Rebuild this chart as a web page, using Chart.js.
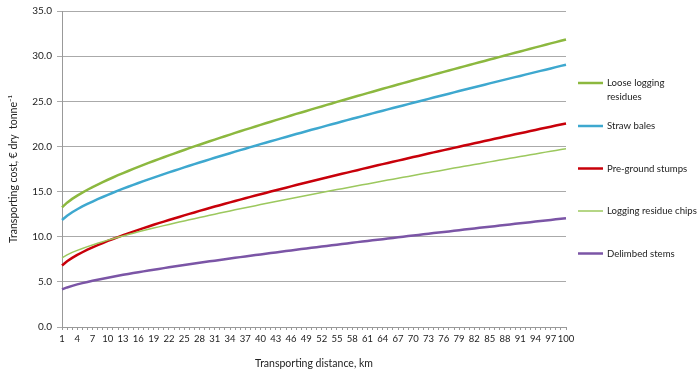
<!DOCTYPE html>
<html lang="en">
<head>
    <meta charset="UTF-8">
    <title>Transporting cost</title>
    <script src="https://cdn.jsdelivr.net/npm/chart.js"></script>
    <style>
        html, body { margin: 0; padding: 0; background: #fff; }
        #wrap { width: 700px; height: 373px; }
    </style>
</head>
<body>
    <div id="wrap"><canvas id="myChart"></canvas></div>
    <script>
        // transporting distance, km (categories)
        const distances = [1,2,3,4,5,6,7,8,9,10,11,12,13,14,15,16,17,18,19,20,
            21,22,23,24,25,26,27,28,29,30,31,32,33,34,35,36,37,38,39,40,
            41,42,43,44,45,46,47,48,49,50,51,52,53,54,55,56,57,58,59,60,
            61,62,63,64,65,66,67,68,69,70,71,72,73,74,75,76,77,78,79,80,
            81,82,83,84,85,86,87,88,89,90,91,92,93,94,95,96,97,98,99,100];

        // labels printed under the axis
        const xTickLabels = [1,4,7,10,13,16,19,22,25,28,31,34,37,40,43,46,49,52,55,58,
            61,64,67,70,73,76,79,82,85,88,91,94,97,100];

        const seriesNames = ['Loose logging\nresidues', 'Straw bales', 'Pre-ground stumps',
            'Logging residue chips', 'Delimbed stems'];

        // € per dry tonne
        const looseResidues = [13.25,13.77,14.19,14.55,14.89,15.20,15.50,15.78,16.05,16.31,
            16.56,16.81,17.05,17.28,17.51,17.73,17.95,18.17,18.39,18.60,
            18.80,19.01,19.21,19.41,19.61,19.81,20.00,20.19,20.38,20.57,
            20.76,20.95,21.13,21.31,21.50,21.68,21.86,22.03,22.21,22.39,
            22.56,22.74,22.91,23.08,23.25,23.43,23.60,23.76,23.93,24.10,
            24.27,24.43,24.60,24.76,24.93,25.09,25.26,25.42,25.58,25.74,
            25.90,26.06,26.22,26.38,26.54,26.70,26.85,27.01,27.17,27.33,
            27.48,27.64,27.79,27.95,28.10,28.26,28.41,28.56,28.71,28.87,
            29.02,29.17,29.32,29.47,29.62,29.77,29.92,30.07,30.22,30.37,
            30.52,30.67,30.82,30.97,31.11,31.26,31.41,31.55,31.70,31.85];

        const strawBales = [11.86,12.33,12.71,13.04,13.35,13.63,13.90,14.16,14.40,14.64,
            14.87,15.10,15.32,15.53,15.74,15.95,16.15,16.35,16.55,16.74,
            16.93,17.12,17.31,17.49,17.68,17.86,18.04,18.22,18.39,18.57,
            18.74,18.91,19.08,19.25,19.42,19.59,19.75,19.92,20.08,20.25,
            20.41,20.57,20.73,20.89,21.05,21.21,21.37,21.52,21.68,21.84,
            21.99,22.14,22.30,22.45,22.60,22.76,22.91,23.06,23.21,23.36,
            23.51,23.66,23.81,23.96,24.10,24.25,24.40,24.54,24.69,24.84,
            24.98,25.12,25.27,25.41,25.56,25.70,25.84,25.99,26.13,26.27,
            26.41,26.55,26.69,26.84,26.98,27.12,27.26,27.40,27.54,27.68,
            27.81,27.95,28.09,28.23,28.37,28.50,28.64,28.78,28.92,29.05];

        const stumps = [6.82,7.29,7.66,7.99,8.28,8.56,8.82,9.06,9.30,9.53,
            9.75,9.96,10.17,10.37,10.57,10.76,10.95,11.13,11.32,11.50,
            11.67,11.85,12.02,12.19,12.36,12.53,12.69,12.86,13.02,13.18,
            13.34,13.49,13.65,13.80,13.96,14.11,14.26,14.41,14.56,14.71,
            14.85,15.00,15.14,15.29,15.43,15.58,15.72,15.86,16.00,16.14,
            16.28,16.42,16.56,16.69,16.83,16.97,17.10,17.24,17.37,17.51,
            17.64,17.77,17.91,18.04,18.17,18.30,18.43,18.56,18.69,18.82,
            18.95,19.08,19.21,19.34,19.46,19.59,19.72,19.84,19.97,20.10,
            20.22,20.35,20.47,20.60,20.72,20.84,20.97,21.09,21.21,21.34,
            21.46,21.58,21.70,21.82,21.95,22.07,22.19,22.31,22.43,22.55];

        const residueChips = [7.66,7.99,8.26,8.49,8.70,8.90,9.09,9.27,9.45,9.62,
            9.78,9.94,10.09,10.24,10.39,10.54,10.68,10.82,10.96,11.09,
            11.23,11.36,11.49,11.62,11.75,11.88,12.00,12.13,12.25,12.38,
            12.50,12.62,12.74,12.86,12.98,13.09,13.21,13.33,13.44,13.56,
            13.67,13.79,13.90,14.01,14.12,14.24,14.35,14.46,14.57,14.68,
            14.78,14.89,15.00,15.11,15.22,15.32,15.43,15.54,15.64,15.75,
            15.85,15.96,16.06,16.17,16.27,16.37,16.48,16.58,16.68,16.79,
            16.89,16.99,17.09,17.19,17.29,17.40,17.50,17.60,17.70,17.80,
            17.90,17.99,18.09,18.19,18.29,18.39,18.49,18.59,18.69,18.78,
            18.88,18.98,19.08,19.17,19.27,19.37,19.46,19.56,19.66,19.75];

        const delimbedStems = [4.16,4.38,4.56,4.72,4.86,4.99,5.12,5.24,5.35,5.46,
            5.57,5.67,5.78,5.88,5.97,6.07,6.16,6.25,6.34,6.43,
            6.52,6.61,6.69,6.78,6.86,6.95,7.03,7.11,7.19,7.27,
            7.35,7.43,7.51,7.59,7.66,7.74,7.82,7.89,7.97,8.04,
            8.12,8.19,8.26,8.34,8.41,8.48,8.55,8.63,8.70,8.77,
            8.84,8.91,8.98,9.05,9.12,9.19,9.26,9.33,9.40,9.46,
            9.53,9.60,9.67,9.73,9.80,9.87,9.94,10.00,10.07,10.14,
            10.20,10.27,10.33,10.40,10.46,10.53,10.59,10.66,10.72,10.79,
            10.85,10.92,10.98,11.04,11.11,11.17,11.24,11.30,11.36,11.43,
            11.49,11.55,11.61,11.68,11.74,11.80,11.86,11.93,11.99,12.05];

        const FONT = 'Lato, "Open Sans", sans-serif';
        const colors = ['#8cb83f', '#3ea8cf', '#c8000a', '#9cc85e', '#7b55a6'];
        const widths = [2.5, 2.5, 2.5, 1.5, 2.5];
        const values = [looseResidues, strawBales, stumps, residueChips, delimbedStems];

        // legend on the right, drawn by hand so the first entry can wrap
        const sideLegend = {
            id: 'sideLegend',
            afterDraw(chart) {
                const ctx = chart.ctx;
                const rows = [83, 126, 168.5, 211, 253.5];
                ctx.save();
                ctx.font = '9.6px ' + FONT;
                ctx.textBaseline = 'middle';
                ctx.fillStyle = '#222';
                chart.data.datasets.forEach((ds, i) => {
                    const y = rows[i];
                    ctx.strokeStyle = ds.borderColor;
                    ctx.lineWidth = ds.borderWidth;
                    ctx.beginPath();
                    ctx.moveTo(578, y);
                    ctx.lineTo(603, y);
                    ctx.stroke();
                    ds.label.split('\n').forEach((t, k) => ctx.fillText(t, 607, y + k * 14));
                });
                ctx.restore();
            }
        };

        const ctx = document.getElementById('myChart').getContext('2d');
        const myChart = new Chart(ctx, {
            type: 'line',
            data: {
                labels: distances,
                datasets: values.map((v, i) => ({
                    label: seriesNames[i],
                    data: v,
                    borderColor: colors[i],
                    borderWidth: widths[i],
                    order: values.length - i,
                    pointRadius: 0,
                    tension: 0,
                    fill: false
                }))
            },
            options: {
                responsive: true,
                maintainAspectRatio: false,
                animation: false,
                layout: { padding: { top: 7, right: 134, left: 0, bottom: 0 } },
                plugins: {
                    legend: { display: false },
                    tooltip: { enabled: false }
                },
                scales: {
                    x: {
                        offset: false,
                        afterFit(scale) { scale.height = 46; },
                        grid: {
                            drawOnChartArea: false,
                            drawTicks: true,
                            tickLength: 3,
                            color: '#999'
                        },
                        border: { color: '#999' },
                        ticks: {
                            autoSkip: false,
                            maxRotation: 0,
                            padding: 3,
                            color: '#222',
                            font: { family: FONT, size: 9.5 },
                            callback(val, idx) {
                                const d = distances[idx];
                                return xTickLabels.includes(d) ? String(d) : '';
                            }
                        },
                        title: {
                            display: true,
                            text: 'Transporting distance, km',
                            color: '#222',
                            font: { family: FONT, size: 10.5 },
                            padding: { top: 4, bottom: 3 }
                        }
                    },
                    y: {
                        min: 0,
                        max: 35,
                        afterFit(scale) { scale.width = 62; },
                        grid: {
                            color: '#aaa',
                            tickLength: 5
                        },
                        border: { color: '#999' },
                        ticks: {
                            stepSize: 5,
                            padding: 5,
                            color: '#222',
                            font: { family: FONT, size: 10 },
                            callback: v => v.toFixed(1)
                        },
                        title: {
                            display: true,
                            text: 'Transporting cost, € dry  tonne⁻¹',
                            color: '#222',
                            font: { family: FONT, size: 10.5 },
                            padding: { top: 7, bottom: 0 }
                        }
                    }
                }
            },
            plugins: [sideLegend]
        });
    </script>
</body>
</html>
